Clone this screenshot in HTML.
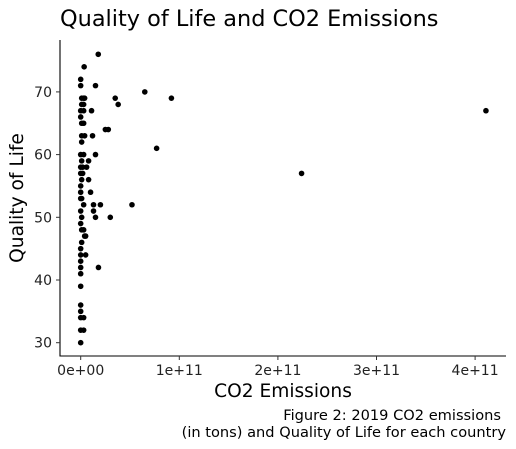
<!DOCTYPE html>
<html><head><meta charset="utf-8"><style>
html,body{margin:0;padding:0;background:#fff;}
svg{display:block;font-family:"DejaVu Sans","Liberation Sans",sans-serif;}
</style></head><body>
<svg id="chart" width="516" height="449" viewBox="0 0 516 449">
<text x="60" y="26" font-size="22.4" fill="#000">Quality of Life and CO2 Emissions</text>
<g id="plot"></g>
<line x1="60" y1="40" x2="60" y2="356.5" stroke="#000" stroke-width="1.1"/>
<line x1="59.5" y1="356" x2="506" y2="356" stroke="#000" stroke-width="1.1"/>
<g id="xticks"></g>
<g id="yticks"></g>
<text x="283" y="397" font-size="18.6" text-anchor="middle" fill="#000">CO2 Emissions</text>
<text transform="translate(23,198) rotate(-90)" font-size="18.6" text-anchor="middle" fill="#000">Quality of Life</text>
<text x="501" y="420" font-size="14.6" text-anchor="end" fill="#000">Figure 2: 2019 CO2 emissions</text>
<text x="506" y="437" font-size="14.6" text-anchor="end" fill="#000">(in tons) and Quality of Life for each country</text>
</svg>
<script>
// CO2 emissions in billions of tons
const co2 = [0,0,1,3,4,1,3,0,3,0,1,3,1,4,1,0,3,1,0,2,0,2,1,0,0,0,1,3,0,1,0,1,3,4,1,0,0,0,0,0,0,0,0,0,3,0,3,0,3.5,
 17.8,15,35,38,65,92,11,25,28,12,77,15,8,6,8,10,13,20,52,13,15,30,18,5,5,411,224];
const qol = [72,71,69,69,69,68,68,67,67,66,65,65,63,63,62,60,60,59,58,58,57,57,56,55,54,53,53,52,51,50,49,48,48,47,46,45,44,43,42,41,39,36,35,34,34,32,32,30,74,
 76,71,69,68,70,69,67,64,64,63,61,60,59,58,56,54,52,52,52,51,50,50,42,44,47,67,57];
const xTickValues = [0,100,200,300,400];
const xTickLabels = ["0e+00","1e+11","2e+11","3e+11","4e+11"];
const yTickValues = [30,40,50,60,70];
const NS='http://www.w3.org/2000/svg';
function xs(v){return 80.7 + v*0.986;}
function ys(v){return 342.7 - (v-30)*6.27;}
const plot=document.getElementById('plot');
for(let i=0;i<co2.length;i++){
  const c=document.createElementNS(NS,'circle');
  c.setAttribute('cx',xs(co2[i]));c.setAttribute('cy',ys(qol[i]));c.setAttribute('r',2.8);c.setAttribute('fill','#000');
  
  
  plot.appendChild(c);
}
const xt=document.getElementById('xticks');
xTickValues.forEach((v,i)=>{
  const l=document.createElementNS(NS,'line');
  l.setAttribute('x1',xs(v));l.setAttribute('x2',xs(v));l.setAttribute('y1',356);l.setAttribute('y2',360);l.setAttribute('stroke','#333');
  
  
  xt.appendChild(l);
  const t=document.createElementNS(NS,'text');
  t.setAttribute('x',xs(v));t.setAttribute('y',375);t.setAttribute('font-size','14');t.setAttribute('text-anchor','middle');t.setAttribute('fill','#222');
  t.textContent=xTickLabels[i];
  
  
  xt.appendChild(t);
});
const yt=document.getElementById('yticks');
yTickValues.forEach(v=>{
  const l=document.createElementNS(NS,'line');
  l.setAttribute('x1',56);l.setAttribute('x2',60);l.setAttribute('y1',ys(v));l.setAttribute('y2',ys(v));l.setAttribute('stroke','#333');
  
  
  yt.appendChild(l);
  const t=document.createElementNS(NS,'text');
  t.setAttribute('x',52);t.setAttribute('y',ys(v)+5);t.setAttribute('font-size','14');t.setAttribute('text-anchor','end');t.setAttribute('fill','#222');
  t.textContent=String(v);
  
  
  yt.appendChild(t);
});
</script>
</body></html>
